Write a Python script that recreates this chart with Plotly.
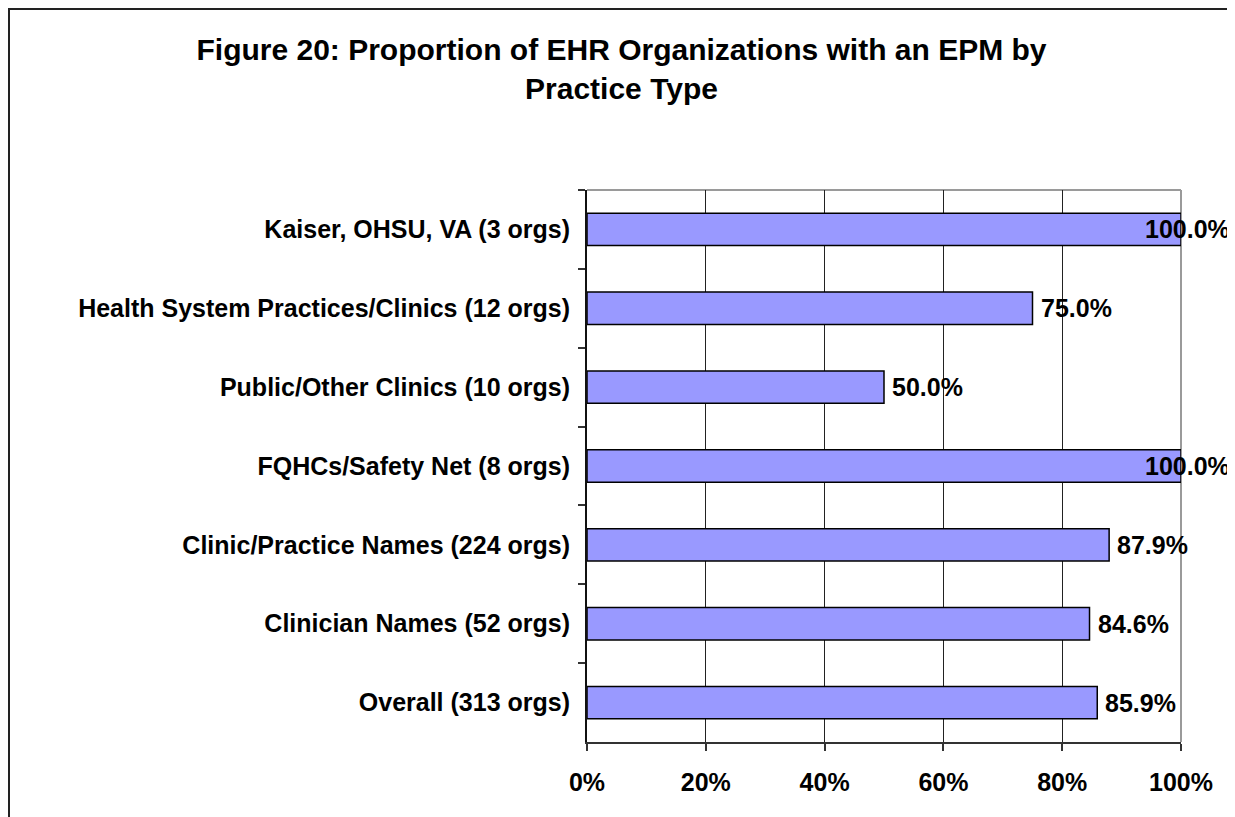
import plotly.graph_objects as go

categories = [
    "Kaiser, OHSU, VA (3 orgs)",
    "Health System Practices/Clinics (12 orgs)",
    "Public/Other Clinics (10 orgs)",
    "FQHCs/Safety Net (8 orgs)",
    "Clinic/Practice Names (224 orgs)",
    "Clinician Names (52 orgs)",
    "Overall (313 orgs)",
]
values = [100.0, 75.0, 50.0, 100.0, 87.9, 84.6, 85.9]
tick_vals = [0, 20, 40, 60, 80, 100]
tick_text = ["0%", "20%", "40%", "60%", "80%", "100%"]
title_text = "Figure 20: Proportion of EHR Organizations with an EPM by<br>Practice Type"

# page body has an 8px margin, so the figure is sized to fit inside the window
W, H = 1227, 809
ML, MR, MT, MB = 579, 54, 182, 75
PW, PH = W - ML - MR, H - MT - MB
FONT = "Liberation Sans, Arial, sans-serif"

def px_x(p):
    return (p - ML) / PW

def px_y(p):
    return (H - MB - p) / PH

fig = go.Figure()
fig.add_trace(go.Bar(
    x=values,
    y=categories,
    orientation="h",
    width=0.41,
    marker=dict(color="#9999FF", line=dict(color="#000000", width=1.5)),
    hoverinfo="skip",
))

xmax = tick_vals[-1]
label_font = dict(family=FONT, size=25, color="#000000", weight="bold")
for v, c in zip(values, categories):
    label = f"{v:.1f}%"
    if v >= xmax:
        fig.add_annotation(x=v, y=c, text=label, showarrow=False, xanchor="right",
                           xshift=51, yanchor="middle", font=label_font)
    else:
        fig.add_annotation(x=v, y=c, text=label, showarrow=False, xanchor="left",
                           xshift=6, yanchor="middle", font=label_font)

# plot area top / right border (gray)
fig.add_shape(type="line", xref="paper", yref="paper", x0=0, x1=1, y0=1, y1=1,
              line=dict(color="#9a9a9a", width=2), layer="between")
fig.add_shape(type="line", xref="paper", yref="paper", x0=1, x1=1, y0=0, y1=1,
              line=dict(color="#9a9a9a", width=2), layer="between")
# outer chart border
fig.add_shape(type="rect", xref="paper", yref="paper",
              x0=px_x(1), x1=px_x(1224), y0=px_y(830), y1=px_y(1),
              line=dict(color="#222222", width=2), fillcolor="rgba(0,0,0,0)", layer="above")

fig.update_layout(
    width=W, height=H,
    margin=dict(l=ML, r=MR, t=MT, b=MB),
    paper_bgcolor="white", plot_bgcolor="white",
    showlegend=False,
    title=dict(text=title_text, x=0.5, xanchor="center", y=1 - 52 / H, yanchor="top",
               yref="container",
               font=dict(family=FONT, size=30, color="#000000", weight="bold")),
    font=dict(family=FONT, color="#000000"),
)
fig.update_xaxes(
    range=[0, 100], tickvals=tick_vals, ticktext=tick_text,
    showgrid=True, gridcolor="#222222", gridwidth=1,
    showline=True, linecolor="#333333", linewidth=2,
    ticks="outside", ticklen=7, tickcolor="#333333", tickwidth=1.5,
    ticklabelstandoff=10,
    tickfont=dict(family=FONT, size=25, color="#000000", weight="bold"),
    zeroline=False, fixedrange=True,
)
fig.update_yaxes(
    autorange="reversed", type="category",
    showline=True, linecolor="#111111", linewidth=2,
    ticks="outside", ticklen=7, tickcolor="#333333", tickwidth=1.5,
    tickson="boundaries", showgrid=False,
    ticklabelstandoff=10,
    tickfont=dict(family=FONT, size=25, color="#000000", weight="bold"),
    fixedrange=True,
)

fig.write_html("out.html")
